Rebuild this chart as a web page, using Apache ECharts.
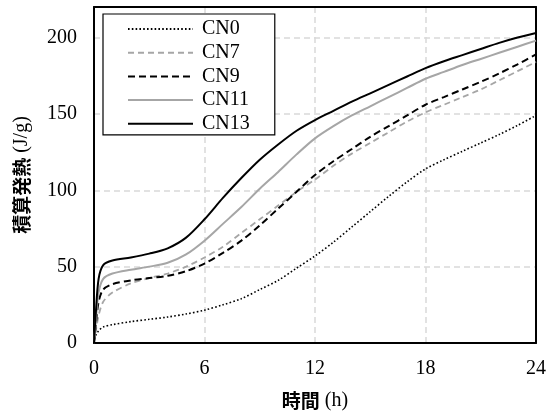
<!DOCTYPE html>
<html><head><meta charset="utf-8">
<script src="https://cdn.jsdelivr.net/npm/echarts@6/dist/echarts.min.js"></script>
<style>html,body{margin:0;padding:0;background:#fff}#c{width:549px;height:418px}</style>
</head><body><div id="c"></div>
<script>
const hours = [0,0.1,0.25,0.5,1,2,3,4,5,6,7,8,9,10,11,12,13,14,15,16,17,18,19,20,21,22,23,24];
const cn0  = [0,5,8,10.5,12,14,15.5,17,19,21.5,25,29,35,41,49,57,66,76,86,96,105.5,114,120,125.5,131,136.5,142.5,149];
const cn7  = [0,8,18,27,33,39,42.5,45.5,50,56,63,72,81,90,99,107,116,124,131,138,145,151,156,161,166,172,178,184];
const cn9  = [0,12,27,35,38.5,41,42.5,44,47,52,59,67,77,88,99,110,119,127,135,142,149,156,161,166,171,176.5,182.5,189];
const cn11 = [0,15,33,42,45.5,48,50,52.5,58,67,78,89,101,112,123.5,134,142,149,155,161,167,173,177.5,182,186,190,194,198];
const cn13 = [0,20,42,51,54,56,58.5,62,69,81,95,108,120,130,139,146,152,158,163.5,169,174.5,180,184.5,188.5,192.5,196.5,200,203];
const seriesNames = ['CN0','CN7','CN9','CN11','CN13'];
const xTicks = [0,6,12,18,24];
const yTicks = [0,50,100,150,200];

const serif = "'Liberation Serif','Times New Roman',serif";
const cjk = "'Noto Sans CJK JP',sans-serif";
const styles = [
  {color:'#000', width:1.6, type:[1.6,2.2]},
  {color:'#a6a6a6', width:1.8, type:[6,4]},
  {color:'#000', width:2, type:[7,4]},
  {color:'#a6a6a6', width:2, type:'solid'},
  {color:'#000', width:2, type:'solid'}
];
const vals = [cn0,cn7,cn9,cn11,cn13];
const gridLine = {show:true,showMinLine:false,showMaxLine:false,lineStyle:{color:'#d9d9d9',width:1.5,type:[6,4]}};
const chart = echarts.init(document.getElementById('c'));
chart.setOption({
  animation:false,
  backgroundColor:'#fff',
  grid:{left:94,right:10,top:7,bottom:75,show:false},
  legend:{
    orient:'vertical',left:103,top:14,
    data:seriesNames,
    itemWidth:65,itemHeight:14,itemGap:3.7,
    padding:[5,25,1,24],
    itemStyle:{opacity:0,borderWidth:0},
    borderColor:'#000',borderWidth:1.2,backgroundColor:'#fff',
    textStyle:{fontFamily:serif,fontSize:20,color:'#000',lineHeight:20,padding:[0,0,0,4]}
  },
  xAxis:[{
    type:'value',min:xTicks[0],max:xTicks[xTicks.length-1],interval:6,
    axisLine:{show:true,lineStyle:{color:'#000',width:2}},
    axisTick:{show:false},
    axisLabel:{fontFamily:serif,fontSize:20,color:'#000',margin:16},
    splitLine:gridLine,
    name:'{a|時間}{b| (h)}',nameLocation:'middle',nameGap:48,
    nameTextStyle:{rich:{a:{fontFamily:cjk,fontWeight:'bold',fontSize:19,color:'#000'},b:{fontFamily:serif,fontSize:20,color:'#000'}}}
  },{
    type:'value',position:'top',min:0,max:24,interval:6,
    axisLine:{show:true,onZero:false,lineStyle:{color:'#000',width:2}},
    axisTick:{show:false},axisLabel:{show:false},splitLine:{show:false}
  }],
  yAxis:[{
    type:'value',min:yTicks[0],max:220,interval:50,
    axisLine:{show:true,lineStyle:{color:'#000',width:2}},
    axisTick:{show:false},
    axisLabel:{fontFamily:serif,fontSize:20,color:'#000',margin:17,formatter:v=>yTicks.includes(v)?String(v):''},
    splitLine:gridLine,
    name:'{a|積算発熱}{b| (J/g)}',nameLocation:'middle',nameGap:62,nameRotate:90,
    nameTextStyle:{rich:{a:{fontFamily:cjk,fontWeight:'bold',fontSize:19,color:'#000'},b:{fontFamily:serif,fontSize:20,color:'#000'}}}
  },{
    type:'value',position:'right',min:0,max:220,interval:50,
    axisLine:{show:true,onZero:false,lineStyle:{color:'#000',width:2}},
    axisTick:{show:false},axisLabel:{show:false},splitLine:{show:false}
  }],
  series: seriesNames.map((n,i)=>({
    name:n,type:'line',showSymbol:false,symbol:'none',smooth:0.3,
    data:hours.map((h,j)=>[h,vals[i][j]]),
    lineStyle:{color:styles[i].color,width:styles[i].width,type:styles[i].type},
    itemStyle:{color:styles[i].color},
    z:2+i
  }))
});
</script></body></html>
